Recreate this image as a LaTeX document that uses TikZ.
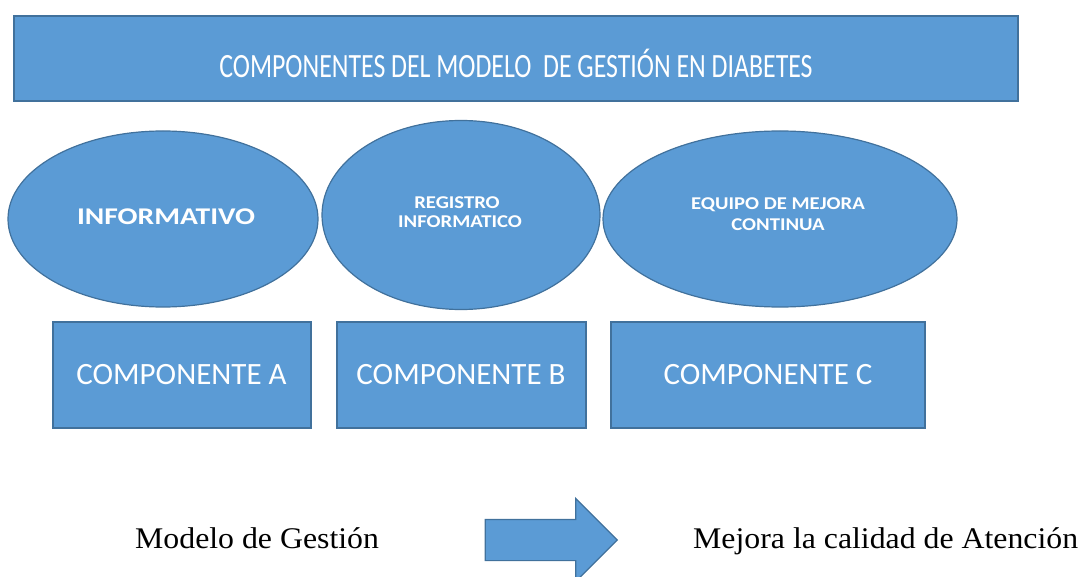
\documentclass[tikz,border=0pt]{standalone}
\usepackage{fontspec}
\usepackage{graphicx}
\setmainfont{Liberation Serif}
\newfontfamily\calfont{Carlito}
\usetikzlibrary{shapes.geometric,shapes.arrows}
\definecolor{fillblue}{HTML}{5B9BD5}
\definecolor{edgeblue}{HTML}{41719C}
\begin{document}
\begin{tikzpicture}[x=1pt,y=-1pt,
  blueshape/.style={fill=fillblue,draw=edgeblue,line width=1.2pt,inner sep=0pt},
  rectbox/.style={blueshape,rectangle},
  ovalbox/.style={blueshape,ellipse},
  titletext/.style={anchor=base,text=white,inner sep=0pt,font=\calfont\fontsize{34}{38}\selectfont},
  ovaltext/.style={anchor=base,text=white,inner sep=0pt,font=\calfont\bfseries\fontsize{18}{21}\selectfont},
  bigovaltext/.style={anchor=base,text=white,inner sep=0pt,font=\calfont\bfseries\fontsize{24}{27}\selectfont},
  comptext/.style={anchor=base,text=white,inner sep=0pt,font=\calfont\fontsize{31}{35}\selectfont},
  serifcap/.style={anchor=base west,inner sep=0pt,font=\fontsize{30}{34}\selectfont},
  blockarrow/.style={blueshape,single arrow,single arrow head extend=21pt,single arrow head indent=0pt,
     minimum height=132pt,inner xsep=0pt,inner ysep=20pt,text height=0pt,text depth=0pt}
]
\useasboundingbox (0,0) rectangle (1083,577);
% title
\node[rectbox,minimum width=1004pt,minimum height=85pt] (title) at (516,58.5) {};
\node[titletext] (titlet) at (516,78) {\scalebox{0.76}[1]{COMPONENTES DEL MODELO\ \ DE GESTIÓN EN DIABETES}};
% ellipses
\node[ovalbox,minimum width=310pt,minimum height=176pt] (e1) at (163,219) {};
\node[ovalbox,minimum width=278pt,minimum height=189pt] (e2) at (461,215) {};
\node[ovalbox,minimum width=354pt,minimum height=176pt] (e3) at (780,219) {};
\node[bigovaltext] (e1t) at (166,225) {\scalebox{1.23}[1]{INFORMATIVO}};
\node[ovaltext] (e2ta) at (457,209) {\scalebox{1.15}[1]{REGISTRO}};
\node[ovaltext] (e2tb) at (460,228) {\scalebox{1.15}[1]{INFORMATICO}};
\node[ovaltext] (e3ta) at (778,210) {\scalebox{1.15}[1]{EQUIPO DE MEJORA}};
\node[ovaltext] (e3tb) at (778,230) {\scalebox{1.15}[1]{CONTINUA}};
% component boxes
\node[rectbox,minimum width=258pt,minimum height=106pt] (ca) at (182,375) {};
\node[rectbox,minimum width=249pt,minimum height=106pt] (cb) at (461.5,375) {};
\node[rectbox,minimum width=314pt,minimum height=106pt] (cc) at (768,375) {};
\node[comptext] (cat) at (181.5,384) {\scalebox{1.0}[1]{COMPONENTE A}};
\node[comptext] (cbt) at (461,384) {\scalebox{1.0}[1]{COMPONENTE B}};
\node[comptext] (cct) at (768,384) {\scalebox{1.0}[1]{COMPONENTE C}};
% bottom line
\node[serifcap] (model) at (135,548) {\scalebox{1.06}[1]{Modelo de Gestión}};
\node[blockarrow] (arrow) at (541,540) {};
\node[serifcap] (mejora) at (693,548) {\scalebox{1.06}[1]{Mejora la calidad de Atención}};
\end{tikzpicture}
\end{document}
